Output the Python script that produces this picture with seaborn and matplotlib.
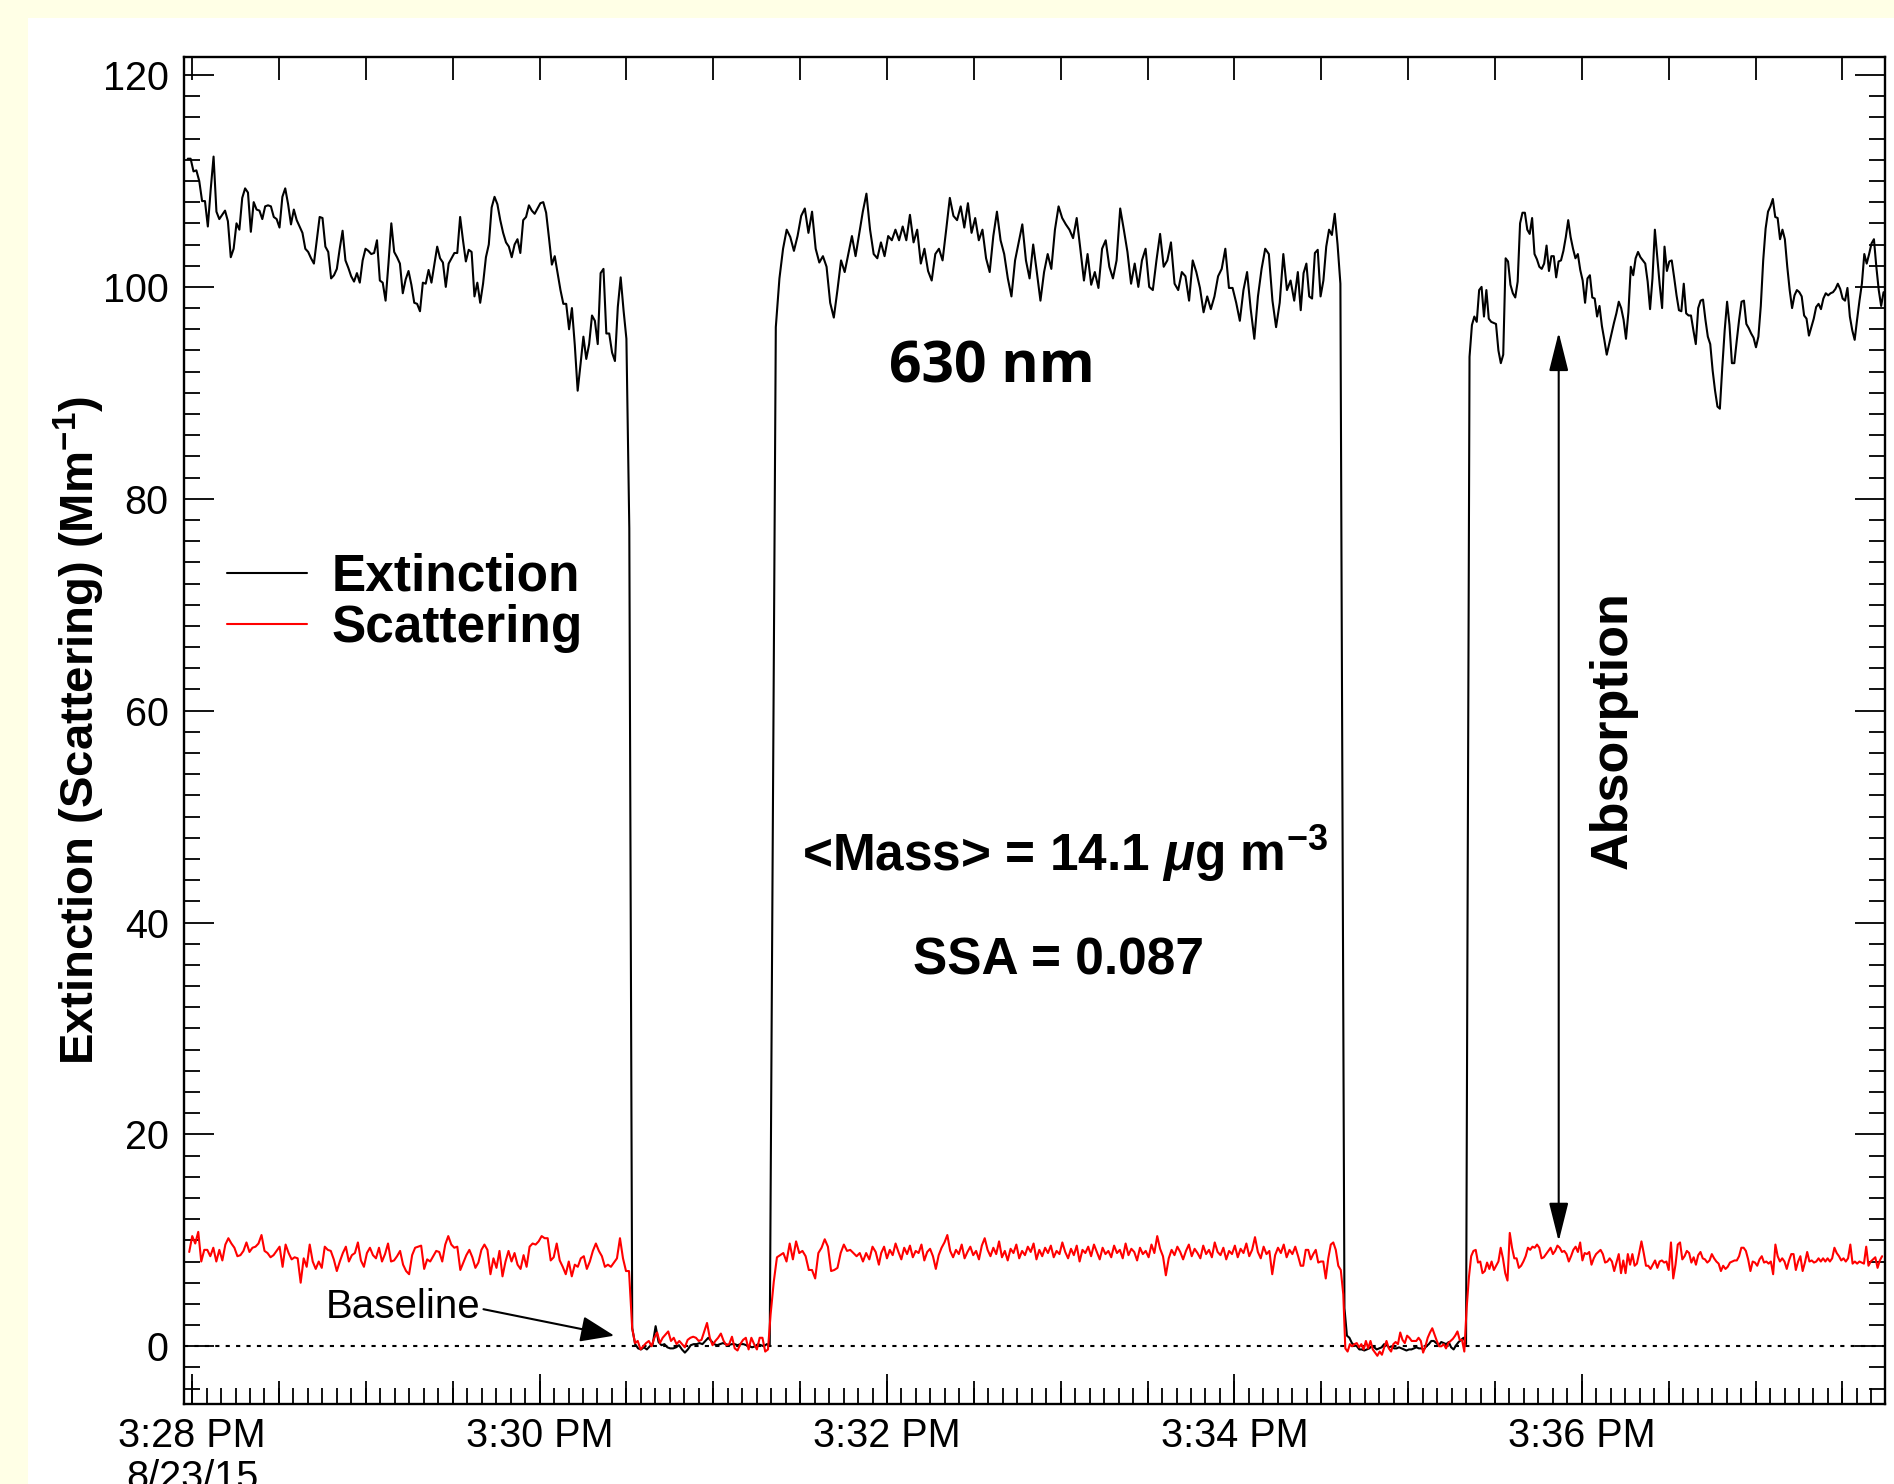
import numpy as np
import pandas as pd
import matplotlib
matplotlib.use("Agg")
import matplotlib.pyplot as plt
import matplotlib.dates as mdates
from matplotlib.patches import Rectangle
from matplotlib.ticker import MultipleLocator, NullFormatter, FuncFormatter
import seaborn as sns

START = pd.Timestamp("2015-08-23 15:28:00")
SERIES = ["Extinction", "Scattering"]
COLORS = ["black", "red"]

# Extinction (Mm^-1) records: ambient air periods and filtered-air baselines
EXT_AMBIENT_1 = [
    112.1, 112.1, 110.9, 111.0, 110.0, 108.1, 108.1, 105.7, 109.2, 112.3,
    107.1, 106.4, 106.8, 107.2, 106.2, 102.8, 103.6, 106.0, 105.4, 108.4,
    109.3, 108.9, 105.2, 108.0, 107.3, 107.2, 106.4, 107.6, 107.7, 107.6,
    106.6, 106.4, 105.6, 108.5, 109.3, 107.8, 105.9, 107.3, 106.3, 105.7,
    105.1, 103.6, 103.3, 102.7, 102.2, 104.4, 106.6, 106.5, 103.8, 103.3,
    100.8, 101.1, 101.7, 103.6, 105.3, 102.5, 101.8, 101.0, 100.5, 101.3,
    100.4, 102.5, 103.6, 103.4, 103.1, 103.2, 104.4, 100.6, 100.4, 98.7,
    102.2, 106.0, 103.3, 102.8, 102.2, 99.4, 100.7, 101.5, 100.2, 98.5,
    98.4, 97.7, 100.4, 100.3, 101.6, 100.4, 102.1, 103.8, 102.7, 102.3,
    100.0, 102.2, 102.7, 103.2, 103.2, 106.6, 104.4, 102.4, 103.5, 103.3,
    99.1, 100.4, 98.5, 100.3, 102.8, 104.0, 107.5, 108.5, 107.8, 106.3,
    105.1, 104.2, 103.8, 102.8, 104.0, 104.5, 103.2, 106.3, 106.6, 107.7,
    107.2, 106.9, 107.4, 107.9, 108.0, 107.0, 104.6, 102.1, 102.9, 101.3,
    99.7, 98.4, 98.4, 96.0, 98.0, 94.5, 90.2, 92.7, 95.3, 93.2,
    94.6, 97.3, 96.8, 94.6, 101.3, 101.7, 95.6, 95.6, 93.8, 93.0,
    98.1, 100.9, 97.8, 95.1,
]
EXT_ZERO_1 = [
    77.2, 1.7, 0.2, -0.2, -0.3, -0.1, -0.3, 0.0, 0.2, 1.9, 0.4,
    0.1, 0.2, -0.1, -0.2, -0.2, -0.1, 0.1, -0.3, -0.6, -0.3,
    0.1, 0.2, 0.2, 0.3, 0.2, 0.5, 0.8, 0.5, 0.2, 0.1,
    0.2, 0.3, 0.2, 0.1, 0.2, 0.2, 0.1, 0.2, 0.2, 0.1,
    0.0, -0.1, 0.0, 0.2, 0.1, 0.0, 0.2, 0.1,
]
EXT_AMBIENT_2A = [
    96.2, 100.8, 103.6, 105.4, 104.7, 103.4, 104.8, 106.7, 107.4, 105.1,
    107.1, 103.6, 102.3, 102.9, 101.9, 98.5, 97.1, 99.7, 102.5, 101.4,
    103.1, 104.8, 102.9, 105.0, 107.1, 108.8, 105.4, 103.1, 102.7, 104.2,
    102.9, 104.8, 104.4, 105.4, 104.4, 105.7, 104.4, 106.8, 104.2, 105.4,
    102.2, 103.6, 101.5, 100.6, 103.1, 103.6, 102.5, 105.4, 108.4, 106.7,
    106.3, 107.6, 105.6, 107.9, 105.1, 106.5, 104.4, 105.4, 102.7, 101.4,
    104.8, 107.1, 104.4, 103.1, 100.8, 99.1, 102.5, 104.2, 105.9, 102.5,
    100.8, 104.0, 101.4, 98.7, 101.4, 103.1, 101.7, 105.4, 107.6, 106.5,
    105.9, 105.4, 104.6, 106.5, 103.6, 100.6, 103.1, 100.2, 101.4, 99.9,
    103.6, 104.4, 101.9, 100.8, 102.5, 107.4, 105.4, 103.3, 100.3, 102.2,
    100.0, 102.5, 103.6, 100.0, 99.7, 102.5, 105.0, 101.9, 102.5, 104.2,
    100.3, 99.7, 101.4, 101.0, 98.7, 102.5, 101.4, 99.9, 97.6, 99.1,
    97.9, 99.1, 101.0, 101.7, 103.6, 99.9, 99.9, 98.5, 96.8, 99.7,
    101.4, 97.9, 95.1, 99.1, 101.7, 103.6, 103.1, 98.7, 96.2, 98.5,
    103.1, 99.7, 100.6, 98.7, 101.4,
]
EXT_AMBIENT_2B = [
    97.8, 101.3, 102.2, 99.1, 98.9, 103.2, 103.5, 99.1, 100.6, 103.8,
    105.4, 104.9, 106.9, 104.0, 100.3,
]
EXT_ZERO_2 = [
    3.6, 1.0, 0.8, 0.3, 0.1, 0.0, -0.3, -0.3, -0.4, -0.3,
    -0.2, 0.0, -0.1, -0.3, -0.2, -0.1, 0.2, 0.1, -0.1, 0.0,
    -0.2, -0.2, -0.1, -0.2, -0.3, -0.4, -0.3, -0.3, -0.2, -0.1,
    -0.2, -0.2, -0.3, 0.0, 0.2, 0.5, 0.5, 0.3, 0.1, 0.4,
    0.3, 0.2, 0.4, -0.1, -0.3, 0.1, 0.4, 0.6, 0.8, 0.2,
]
EXT_AMBIENT_3 = [
    93.4, 96.4, 97.2, 96.7, 99.7, 100.0, 97.2, 99.7, 97.0, 96.7,
    96.6, 96.5, 94.0, 92.8, 93.6, 102.7, 102.4, 100.2, 99.4, 99.0,
    100.5, 106.0, 107.0, 107.0, 105.4, 105.0, 106.5, 103.1, 102.6, 101.9,
    101.7, 102.2, 103.9, 101.5, 102.9, 102.9, 100.9, 102.4, 102.5, 103.4,
    104.7, 106.3, 104.7, 103.6, 102.7, 103.1, 101.6, 100.6, 98.5, 100.8,
    101.1, 99.0, 98.9, 97.2, 98.2, 96.3, 95.0, 93.6, 94.6, 95.6,
    96.6, 97.5, 98.6, 98.0, 96.9, 95.1, 97.6, 101.9, 101.1, 102.7,
    103.3, 102.8, 102.5, 102.2, 100.5, 97.9, 100.8, 105.4, 102.8, 100.2,
    98.0, 103.8, 101.5, 102.4, 102.5, 100.9, 99.2, 97.8, 97.7, 100.3,
    97.5, 97.3, 97.3, 95.9, 94.6, 98.0, 98.7, 98.8, 96.9, 95.3,
    94.6, 92.1, 90.2, 88.7, 88.5, 92.4, 95.9, 98.6, 96.4, 92.8,
    92.8, 94.9, 96.9, 98.6, 98.7, 96.5, 96.1, 95.6, 95.2, 94.3,
    95.3, 98.2, 102.5, 105.5, 107.1, 107.6, 108.3, 106.6, 106.5, 104.5,
    105.4, 104.5, 101.9, 99.7, 98.0, 99.2, 99.7, 99.5, 99.1, 97.3,
    97.0, 95.4, 96.2, 97.0, 98.1, 98.4, 97.9, 98.9, 99.4, 99.2,
    99.4, 99.5, 99.8, 100.3, 99.8, 98.9, 98.7, 99.9, 97.2, 95.9,
    95.0, 96.9, 98.7, 100.3, 103.1, 102.2, 103.1, 104.1, 104.5, 101.9,
    99.7, 98.2, 99.5,
]

# Scattering (Mm^-1) records
SCA_AMBIENT_1 = [
    8.9, 10.4, 9.7, 10.8, 8.0, 9.1, 9.1, 8.5, 9.3, 8.0,
    9.1, 8.1, 9.6, 10.2, 9.7, 9.3, 8.5, 8.6, 9.0, 9.8,
    8.9, 9.3, 9.4, 9.7, 10.5, 9.0, 8.8, 8.4, 8.6, 9.0,
    9.4, 7.5, 9.6, 8.8, 8.2, 8.4, 8.3, 6.0, 8.3, 7.5,
    9.6, 8.0, 7.3, 8.0, 7.4, 9.4, 9.1, 9.0, 8.2, 7.1,
    8.0, 8.8, 9.4, 8.0, 8.6, 8.8, 9.8, 8.1, 7.5, 8.8,
    9.3, 8.6, 8.3, 9.3, 8.0, 8.7, 9.7, 8.0, 8.1, 8.5,
    9.0, 7.7, 7.1, 6.8, 8.6, 9.3, 9.4, 9.5, 7.3, 8.2,
    8.0, 8.5, 9.0, 8.9, 8.0, 9.6, 10.4, 9.6, 9.3, 9.4,
    7.2, 7.9, 8.6, 9.1, 8.4, 7.4, 7.9, 9.1, 9.6, 9.1,
    6.8, 8.3, 7.4, 9.0, 6.6, 8.0, 9.0, 8.0, 8.8, 7.7,
    7.3, 8.6, 7.5, 9.4, 9.7, 9.6, 9.9, 10.4, 10.2, 10.2,
    8.1, 8.4, 9.7, 8.1, 7.5, 6.8, 8.0, 6.6, 7.7, 7.5,
    8.3, 8.5, 7.3, 8.0, 9.0, 9.7, 9.0, 8.5, 7.5, 7.7,
    7.5, 7.9, 8.3, 10.2, 8.3, 7.1, 7.1,
]
SCA_ZERO_1 = [
    1.7, 0.3, 0.5, -0.3, 0.0, 0.3, 0.5, 0.0, 0.8, 1.3, 0.3,
    0.8, 1.1, 1.4, 0.5, 0.8, 0.2, 0.5, 0.2, -0.1, 0.6,
    0.8, 0.9, 0.8, 0.5, 0.6, 1.4, 2.2, 0.8, 0.1, 0.5,
    0.8, 1.2, 0.5, 0.1, 0.2, 0.9, -0.2, -0.4, 0.2, 0.6,
    0.8, -0.3, 0.8, 0.2, -0.3, 0.8, 0.8, -0.5, -0.3,
]
SCA_AMBIENT_2A = [
    3.0, 6.1, 8.4, 8.6, 8.8, 8.0, 9.7, 8.2, 9.9, 8.8,
    9.0, 8.5, 7.2, 7.2, 6.4, 8.8, 9.3, 10.1, 9.4, 7.1,
    7.2, 7.4, 8.8, 9.6, 9.0, 9.1, 8.8, 8.5, 8.8, 8.0,
    8.8, 8.2, 9.4, 8.9, 7.7,
]
SCA_AMBIENT_2B = [
    8.8, 9.4, 8.3, 9.1, 8.6, 9.7, 8.9, 8.2, 9.3, 8.7,
    9.5, 8.4, 9.0, 8.8, 9.6, 8.1, 8.9, 9.2, 8.5, 7.3,
    8.6, 9.3, 9.8, 10.5, 9.0, 8.4, 9.1, 8.7, 9.6, 8.3,
    8.9, 9.4, 8.6, 9.0, 8.2, 9.5, 10.2, 9.1, 8.5, 9.3,
    8.7, 9.9, 8.4, 9.0, 8.1, 9.2, 8.8, 9.6, 8.3, 9.0,
    8.6, 9.4, 8.9, 9.7, 8.2, 9.1, 8.5, 9.3, 8.8, 9.5,
    8.4, 9.0, 8.7, 9.8, 8.9, 8.3, 9.2, 8.6, 9.5, 8.0,
    9.1, 8.8, 9.4, 8.5, 9.6, 8.9, 8.2, 9.3, 8.7, 9.0,
    8.4, 9.5, 8.8, 9.1, 8.3, 9.7, 8.6, 9.2, 8.9, 8.1,
    9.3, 8.7, 9.0, 8.4, 9.6, 8.8, 10.4, 9.2, 8.5, 6.7,
    8.3, 9.1, 8.6, 9.4, 8.9, 8.2, 9.0, 9.6, 8.5, 9.2,
    8.8, 8.3, 9.5, 8.7, 9.1, 8.4, 9.8, 8.9, 8.6, 9.3,
    8.2, 9.0, 8.7, 9.5, 8.4, 9.2, 8.8, 9.7, 8.5, 9.1,
    10.3, 8.9, 8.3, 9.4, 8.7, 9.0, 6.8, 8.6, 9.3, 8.8,
    9.6, 8.4, 9.1, 8.7, 9.4, 8.5,
]
SCA_AMBIENT_2C = [
    7.6, 7.6, 9.1, 9.1, 8.2, 8.7, 9.1, 7.9, 8.0, 8.0,
    6.4, 8.3, 9.6, 9.8, 9.1, 7.6, 7.2, 4.9,
]
SCA_ZERO_2 = [
    -0.2, -0.5, 0.2, 0.0, 0.2, 0.3, -0.1, 0.2, -0.3, 0.5,
    -0.2, 0.5, -0.3, -0.6, -0.9, -0.5, -0.8, -0.1, 0.5, -0.2,
    -0.5, 0.2, 0.4, 0.2, 1.3, 0.6, 0.3, 1.0, 0.8, 0.5,
    0.5, 0.5, 0.8, 0.5, -0.6, 0.0, 0.8, 1.3, 1.7, 1.1,
    0.5, 0.0, 0.0, 0.2, -0.2, 0.3, 0.5, 0.7, 1.0, 1.4,
    0.6, 0.6, -0.5,
]
SCA_AMBIENT_3 = [
    3.6, 6.5, 8.5,
    9.0, 9.1, 7.9, 8.0, 6.9, 7.1, 7.9, 7.3, 8.0, 7.2,
    7.6, 8.0, 9.3, 8.3, 6.9, 6.2, 10.7, 9.3, 8.3, 8.3,
    7.4, 7.6, 8.0, 8.5, 9.3, 9.1, 9.4, 9.3, 9.6, 9.3,
    8.3, 8.4, 8.7, 9.0, 9.3, 8.7, 9.0, 9.5, 9.3, 8.9,
    9.0, 8.7, 8.0, 8.5, 9.1, 9.4, 8.9, 9.8, 8.1, 8.8,
    8.7, 8.9, 7.7, 8.3, 8.7, 8.9, 9.1, 8.7, 7.9, 8.0,
    8.3, 8.0, 7.1, 7.9, 8.7, 6.9, 8.1, 6.9, 8.7, 7.7,
    8.7, 7.6, 7.8, 8.8, 9.9, 8.8, 7.6, 7.6, 7.3, 7.7,
    8.1, 7.4, 8.0, 8.1, 7.9, 8.0, 7.2, 9.8, 6.4, 7.7,
    9.6, 9.8, 8.2, 8.5, 9.0, 8.8, 7.9, 8.4, 7.7, 8.6,
    8.9, 8.3, 8.2, 7.9, 8.1, 8.7, 8.3, 8.0, 7.8, 7.1,
    7.6, 7.3, 7.5, 7.9, 8.0, 8.1, 8.1, 8.5, 9.3, 9.3,
    9.0, 8.2, 7.1, 8.0, 7.9, 7.6, 8.2, 8.5, 7.9, 8.0,
    7.8, 8.0, 6.8, 9.6, 8.5, 8.0, 8.3, 8.0, 7.3, 8.1,
    8.7, 8.7, 7.2, 8.0, 8.5, 7.1, 7.9, 8.9, 8.0, 8.1,
    7.9, 8.0, 8.3, 8.0, 8.3, 8.0, 8.3, 8.0, 8.3, 9.3,
    8.8, 8.5, 8.1, 8.3, 8.0, 8.3, 9.6, 7.8, 8.0, 7.8,
    8.0, 7.9, 7.8, 9.4, 7.6, 8.0, 8.2, 8.4, 7.4, 8.1,
    8.5,
]

# Each record covers (first second, last second) after 15:28:00
EXT_RECORDS = [
    ((-1.5, 150.0), EXT_AMBIENT_1),
    ((151.0, 199.5), EXT_ZERO_1),
    ((201.6, 381.9), EXT_AMBIENT_2A),
    ((382.9, 396.6), EXT_AMBIENT_2B),
    ((398.0, 440.0), EXT_ZERO_2),
    ((441.2, 584.2), EXT_AMBIENT_3),
]
SCA_RECORDS = [
    ((-1.0, 150.9), SCA_AMBIENT_1),
    ((152.0, 198.9), SCA_ZERO_1),
    ((199.8, 237.2), SCA_AMBIENT_2A),
    ((238.0, 382.0), SCA_AMBIENT_2B),
    ((382.9, 397.6), SCA_AMBIENT_2C),
    ((398.3, 439.4), SCA_ZERO_2),
    ((440.2, 583.7), SCA_AMBIENT_3),
]


def build(name, records):
    frames = []
    for (t_a, t_b), vals in records:
        secs = np.linspace(t_a, t_b, len(vals))
        frames.append(pd.DataFrame({
            "time": START + pd.to_timedelta(secs, unit="s"),
            "value": vals,
            "series": name,
        }))
    return pd.concat(frames, ignore_index=True)


df = pd.concat([build("Extinction", EXT_RECORDS),
                build("Scattering", SCA_RECORDS)], ignore_index=True)


def tnum(sec):
    return mdates.date2num((START + pd.Timedelta(seconds=sec)).to_pydatetime())


sns.set_style("ticks")
plt.rcParams["font.family"] = ["Liberation Sans", "DejaVu Sans"]
plt.rcParams["mathtext.fontset"] = "custom"
plt.rcParams["mathtext.rm"] = "Liberation Sans:bold"
plt.rcParams["mathtext.it"] = "Liberation Sans:italic:bold"
plt.rcParams["mathtext.bf"] = "Liberation Sans:bold"
plt.rcParams["mathtext.default"] = "bf"
for key in ("text.color", "axes.labelcolor", "xtick.color", "ytick.color",
            "axes.edgecolor"):
    plt.rcParams[key] = "black"

fig = plt.figure(figsize=(18.94, 14.84), dpi=100)
fig.patch.set_facecolor("#FFFFE6")
fig.add_artist(Rectangle((28 / 1894, 0), 1, 1 - 18 / 1484, transform=fig.transFigure,
                         facecolor="white", edgecolor="none", zorder=-5))
ax = fig.add_axes([0.09715, 0.05391, 0.8981, 0.90768])
ax.set_facecolor("white")

sns.lineplot(data=df, x="time", y="value", hue="series", hue_order=SERIES,
             palette=COLORS, estimator=None, linewidth=1.5, legend=False, ax=ax)
ax.axhline(0, color="black", lw=1.5, ls=(0, (2, 3)), zorder=1)

ax.set_xlim(tnum(-2.8), tnum(584.7))
ax.set_ylim(-5.45, 121.7)

# time axis: 2-min labels, 30-s and 5-s ticks
ax.xaxis.set_major_locator(mdates.MinuteLocator(byminute=range(0, 60, 2)))
ax.xaxis.set_minor_locator(mdates.SecondLocator(bysecond=range(0, 60, 5)))


def time_label(x, pos):
    d = mdates.num2date(x)
    h = d.hour % 12 or 12
    s = f"{h}:{d.minute:02d} {'PM' if d.hour >= 12 else 'AM'}"
    if d.hour == 15 and d.minute == 28:
        s += "\n8/23/15"
    return s


ax.xaxis.set_major_formatter(FuncFormatter(time_label))
ax.yaxis.set_major_locator(MultipleLocator(20))
ax.yaxis.set_minor_locator(MultipleLocator(2))

ax.tick_params(axis="both", which="both", direction="in", top=True, right=True,
               width=1.3, color="black", labelcolor="black")
ax.tick_params(axis="x", which="major", length=21.6, pad=9.5, labelsize=28.5)
ax.tick_params(axis="x", which="minor", length=11.5)
ax.tick_params(axis="y", which="major", length=21.6, pad=11, labelsize=28.5)
ax.tick_params(axis="y", which="minor", length=11.2)
for lab in ax.get_xticklabels():
    lab.set_linespacing(1.12)
for sp in ax.spines.values():
    sp.set_linewidth(1.7)
    sp.set_color("black")

ax2 = ax.twiny()
ax2.xaxis_date()
ax2.set_xlim(ax.get_xlim())
ax2.xaxis.set_major_locator(mdates.SecondLocator(bysecond=[0, 30]))
ax2.xaxis.set_major_formatter(NullFormatter())
ax2.tick_params(axis="x", which="major", direction="in", length=16.6, width=1.3,
                color="black", top=True, bottom=True, labeltop=False,
                labelbottom=False)
ax2.xaxis.set_minor_locator(matplotlib.ticker.NullLocator())
for sp in ax2.spines.values():
    sp.set_visible(False)

ax.set_xlabel("")
ax.set_ylabel(r"Extinction (Scattering) (Mm$^{-1}$)", fontsize=34, fontweight="bold",
              color="black")
ax.yaxis.set_label_coords(-0.0455, 0.5)

leg = ax.legend(handles=ax.lines[:2], labels=SERIES, loc="center left",
                bbox_to_anchor=(0.0253, 0.595), frameon=False,
                prop={"weight": "bold", "size": 37}, handlelength=1.55,
                handletextpad=0.49, labelspacing=0.04, borderpad=0,
                borderaxespad=0, labelcolor="black")

ax.text(0.475, 0.758, "630 nm", transform=ax.transAxes, ha="center", va="baseline",
        fontsize=41, fontweight="bold", family=["Open Sans", "DejaVu Sans"])
ax.text(0.518, 0.396, r"<Mass> = 14.1 $\mathit{\mu}$g m$^{-3}$", transform=ax.transAxes,
        ha="center", va="baseline", fontsize=37, fontweight="bold")
ax.text(0.5144, 0.3185, "SSA = 0.087", transform=ax.transAxes, ha="center",
        va="baseline", fontsize=37, fontweight="bold")
ax.text(0.840, 0.50, "Absorption", transform=ax.transAxes, rotation=90, ha="center",
        va="center", fontsize=37.5, fontweight="bold")

ax.annotate("", xy=(tnum(472), 9.9), xytext=(tnum(472), 95.7),
            arrowprops=dict(arrowstyle="<|-|>,head_length=1.2,head_width=0.3",
                            mutation_scale=20, lw=1.5, color="black",
                            shrinkA=0, shrinkB=0))
ax.annotate("Baseline", xy=(tnum(145.8), 1.0), xytext=(tnum(99.5), 2.7),
            ha="right", va="baseline", fontsize=29,
            arrowprops=dict(arrowstyle="-|>,head_length=1.05,head_width=0.4",
                            mutation_scale=20, lw=1.5, color="black",
                            shrinkA=0, shrinkB=0, relpos=(1.0, 0.45)))

fig.savefig("out.png", dpi=100, facecolor=fig.get_facecolor())
